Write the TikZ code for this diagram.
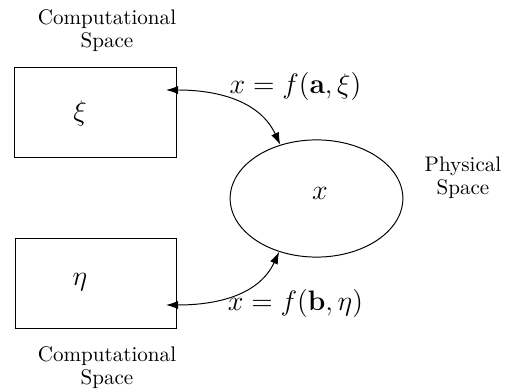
\documentclass[tikz,border=0pt]{standalone}
\usepackage{amsmath,amssymb}
\usetikzlibrary{arrows.meta,shapes.geometric}
\tikzset{
  compbox/.style={draw,line width=0.5pt,minimum width=2.91cm,minimum height=1.62cm,inner sep=0pt},
  physell/.style={draw,ellipse,line width=0.5pt,minimum width=3.11cm,minimum height=2.11cm,inner sep=0pt},
  spacelbl/.style={align=center,inner sep=0pt,font=\fontsize{10.8}{11.8}\selectfont},
  maplbl/.style={inner sep=0pt,font=\Large},
  maparrow/.style={{Latex[length=2.2mm,width=1.5mm]}-{Latex[length=2.2mm,width=1.5mm]},line width=0.5pt}
}
\begin{document}
\begin{tikzpicture}[x=0.018cm,y=0.018cm]
  \useasboundingbox (0,0) rectangle (513,392);
  % computational spaces
  \node[spacelbl] (comptop) at (107,361) {Computational\\Space};
  \node[compbox] (xibox) at (95.5,279.5) {};
  \node[maplbl] (xi) at (80,279) {$\xi$};
  \node[compbox] (etabox) at (96,108.5) {};
  \node[maplbl] (eta) at (80,110) {$\eta$};
  \node[spacelbl] (compbot) at (107,24) {Computational\\Space};
  % physical space
  \node[physell] (phys) at (316.5,193.5) {};
  \node[maplbl] (xphys) at (320,199) {$x$};
  \node[spacelbl] (physlbl) at (463,214) {Physical\\Space};
  % mappings
  \coordinate (xiend) at (166,302);
  \coordinate (etaend) at (166,87);
  \draw[maparrow] (xiend) to[out=0,in=115] (phys.124);
  \draw[maparrow] (etaend) to[out=0,in=-115] (phys.235);
  \node[maplbl] (maptop) at (295.5,306) {$x = f(\mathbf{a},\xi)$};
  \node[maplbl] (mapbot) at (295.5,89) {$x = f(\mathbf{b},\eta)$};
\end{tikzpicture}
\end{document}
